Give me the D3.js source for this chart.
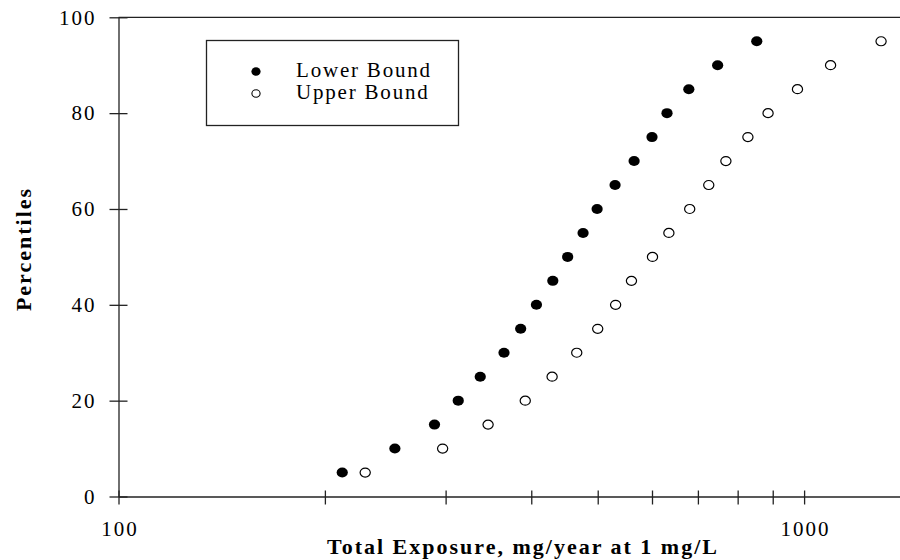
<!DOCTYPE html>
<html>
<head>
<meta charset="utf-8">
<script src="https://cdn.jsdelivr.net/npm/d3@7"></script>
<style>
  html, body { margin: 0; padding: 0; background: #fff; }
  svg { display: block; }
  text { font-family: "Liberation Serif", "Times New Roman", serif; fill: #000; }
</style>
</head>
<body>
<svg id="chart" width="900" height="560"></svg>
<script>
// Percentile levels and exposure values (mg/year at 1 mg/L)
const percentiles = [5, 10, 15, 20, 25, 30, 35, 40, 45, 50, 55, 60, 65, 70, 75, 80, 85, 90, 95];
const lowerBound  = [212, 253, 289, 313, 337, 365, 386, 407, 430, 452, 476, 499, 530, 565, 600, 631, 679, 748, 853];
const upperBound  = [229, 297, 346, 392, 429, 466, 500, 531, 560, 601, 635, 681, 726, 769, 828, 886, 978, 1093, 1295];

const seriesNames = ["Lower Bound", "Upper Bound"];

// Axis ticks
const xTickValues = [100, 200, 300, 400, 500, 600, 700, 800, 900, 1000];
const xLabeledTicks = [100, 1000];
const yTickValues = [0, 20, 40, 60, 80, 100];

const svg = d3.select("#chart");

const x = d3.scaleLog().domain([100, 1380]).range([118.5, 900]);
const y = d3.scaleLinear().domain([0, 100]).range([496.5, 17.3]);

const axisColor = "#222";

// Y axis with ticks crossing the axis line
const yAxis = svg.append("g")
  .attr("transform", `translate(${x(100)},0)`)
  .call(d3.axisLeft(y).tickValues(yTickValues).tickSize(9).tickSizeOuter(0).tickPadding(13));
yAxis.select(".domain").attr("stroke", axisColor).attr("stroke-width", 1.3);
yAxis.selectAll(".tick line").attr("x1", 9).attr("stroke", axisColor).attr("stroke-width", 1.3);
yAxis.selectAll(".tick text")
  .attr("font-size", 21).attr("letter-spacing", "2px")
  .attr("font-family", "Liberation Serif").attr("fill", "#000");

// X axis (log scale) with crossing ticks, labels only at decades
const xAxis = svg.append("g")
  .attr("transform", `translate(0,${y(0)})`)
  .call(d3.axisBottom(x).tickValues(xTickValues).tickSize(8).tickSizeOuter(0).tickPadding(17)
    .tickFormat(d => xLabeledTicks.includes(d) ? String(d) : ""));
xAxis.select(".domain").attr("stroke", axisColor).attr("stroke-width", 1.3);
xAxis.selectAll(".tick line").attr("y1", -6).attr("stroke", axisColor).attr("stroke-width", 1.3);
xAxis.selectAll(".tick text")
  .attr("font-size", 21).attr("letter-spacing", "2px")
  .attr("font-family", "Liberation Serif").attr("fill", "#000")
  .attr("dx", "1px");

// Top frame line
svg.append("line")
  .attr("x1", x(100)).attr("x2", x(1380))
  .attr("y1", y(100)).attr("y2", y(100))
  .attr("stroke", axisColor).attr("stroke-width", 1.3);

// Axis titles
svg.append("text")
  .attr("x", 523).attr("y", 554)
  .attr("text-anchor", "middle")
  .attr("font-size", 22).attr("font-weight", "bold").attr("letter-spacing", "2px")
  .text("Total Exposure, mg/year at 1 mg/L");

svg.append("text")
  .attr("transform", "translate(31,249) rotate(-90)")
  .attr("text-anchor", "middle")
  .attr("font-size", 22).attr("font-weight", "bold").attr("letter-spacing", "2px")
  .text("Percentiles");

// Markers
const lowerData = percentiles.map((p, i) => ({ p, v: lowerBound[i] }));
const upperData = percentiles.map((p, i) => ({ p, v: upperBound[i] }));

svg.append("g").selectAll("ellipse")
  .data(lowerData).join("ellipse")
  .attr("cx", d => x(d.v)).attr("cy", d => y(d.p))
  .attr("rx", 5.6).attr("ry", 5.0)
  .attr("fill", "#000");

svg.append("g").selectAll("ellipse")
  .data(upperData).join("ellipse")
  .attr("cx", d => x(d.v)).attr("cy", d => y(d.p))
  .attr("rx", 5.1).attr("ry", 4.5)
  .attr("fill", "#fff").attr("stroke", "#000").attr("stroke-width", 1.2);

// Legend
const legend = svg.append("g");
legend.append("rect")
  .attr("x", 206.5).attr("y", 40.5).attr("width", 252).attr("height", 85)
  .attr("fill", "#fff").attr("stroke", axisColor).attr("stroke-width", 1.3);

const legendRows = [
  { name: seriesNames[0], cy: 71.5, filled: true },
  { name: seriesNames[1], cy: 93.5, filled: false }
];
legendRows.forEach(r => {
  if (r.filled) {
    legend.append("ellipse").attr("cx", 256).attr("cy", r.cy).attr("rx", 4.6).attr("ry", 4.3).attr("fill", "#000");
  } else {
    legend.append("ellipse").attr("cx", 256).attr("cy", r.cy).attr("rx", 4.1).attr("ry", 3.7)
      .attr("fill", "#fff").attr("stroke", "#000").attr("stroke-width", 1.1);
  }
  legend.append("text")
    .attr("x", 296).attr("y", r.cy + 5)
    .attr("font-size", 21).attr("letter-spacing", "1.8px")
    .text(r.name);
});
</script>
</body>
</html>
